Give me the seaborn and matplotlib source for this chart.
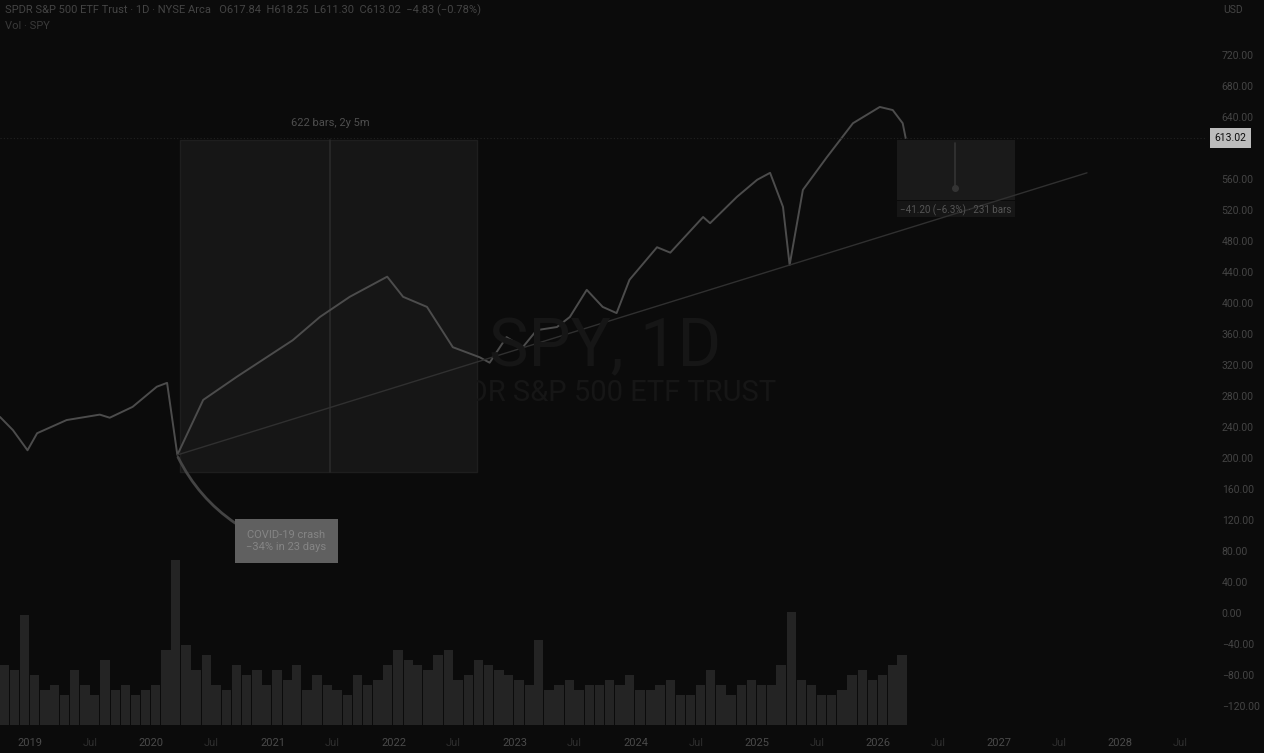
import numpy as np
import pandas as pd
import matplotlib
matplotlib.use("Agg")
import matplotlib.pyplot as plt
import matplotlib.dates as mdates
import matplotlib.transforms as mtransforms
from matplotlib.patches import Rectangle
import seaborn as sns

# price path (closes)
dates = ["2018-10-02", "2018-11-10", "2018-12-24", "2019-01-22", "2019-04-21",
         "2019-07-30", "2019-08-29", "2019-11-06", "2020-01-18", "2020-02-18",
         "2020-03-20", "2020-06-06", "2020-09-16", "2021-03-03", "2021-05-24",
         "2021-08-22", "2021-12-13", "2022-01-30", "2022-04-12", "2022-06-29",
         "2022-09-18", "2022-10-18", "2022-12-08", "2023-01-26", "2023-03-09",
         "2023-05-09", "2023-06-17", "2023-08-07", "2023-09-24", "2023-11-05",
         "2023-12-14", "2024-03-06", "2024-04-15", "2024-07-23", "2024-08-13",
         "2024-11-02", "2025-01-02", "2025-02-10", "2025-03-21", "2025-04-10",
         "2025-05-20", "2025-07-31", "2025-10-18", "2026-01-07", "2026-02-15",
         "2026-03-17", "2026-03-26"]
close = [253, 236, 210, 232, 249, 256, 252, 266, 292, 297,
         204, 275, 305, 352, 382, 408, 434, 408, 395, 343,
         330, 323, 356, 343, 365, 369, 382, 417, 395, 387,
         430, 472, 465, 511, 503, 537, 559, 568, 524, 449,
         546, 588, 632, 653, 649, 632, 613]

# monthly volume, millions (Oct 2018 .. Mar 2026)
volume = [120, 110, 220,
          100, 70, 80, 60, 110, 80, 60, 130, 70, 80, 60, 70,
          80, 150, 330, 160, 110, 140, 80, 70, 120, 100, 110, 80,
          110, 90, 120, 70, 100, 80, 70, 60, 100, 80, 90, 120,
          150, 130, 120, 110, 140, 150, 90, 100, 130, 120, 110, 100,
          90, 80, 170, 70, 80, 90, 70, 80, 80, 90, 80, 100,
          70, 70, 80, 90, 60, 60, 80, 110, 80, 60, 80, 90,
          80, 80, 120, 226, 90, 80, 60, 60, 70, 100, 110, 90,
          100, 120, 140]

trend_dates = ["2020-03-20", "2027-09-24"]
trend_price = [204, 568]

last_price = 613.02
price_ticks = [-120, -80, -40, 0, 40, 80, 120, 160, 200, 240, 280, 320, 360,
               400, 440, 480, 520, 560, 640, 680, 720]
years = [2019, 2020, 2021, 2022, 2023, 2024, 2025, 2026, 2027, 2028]

BG = "#0b0b0b"
sns.set_theme(style="dark", rc={"axes.facecolor": BG, "figure.facecolor": BG})
plt.rcParams["font.family"] = ["Roboto", "DejaVu Sans"]

fig = plt.figure(figsize=(12.64, 7.53), dpi=100)
pos = [0, 28 / 753, 1205 / 1264, 725 / 753]
ax_vol = fig.add_axes(pos)
ax = fig.add_axes(pos, sharex=ax_vol)
ax.set_facecolor("none")

# volume
vol_dates = pd.date_range("2018-10-01", periods=len(volume), freq="MS")
ax_vol.bar(vol_dates, volume, width=28, align="edge", color="#242424", linewidth=0)
ax_vol.set_ylim(0, 1450)
ax_vol.set_yticks([])
ax_vol.tick_params(axis="x", which="both", labelbottom=False, length=0)
for s in ax_vol.spines.values():
    s.set_visible(False)

# price
df = pd.DataFrame({"date": pd.to_datetime(dates), "close": close})
sns.lineplot(data=df, x="date", y="close", ax=ax, color="#4c4c4c", linewidth=1.4)
sns.lineplot(x=pd.to_datetime(trend_dates), y=trend_price, ax=ax,
             color="#303030", linewidth=1.0)

ax.set_xlim(pd.Timestamp("2018-10-02"), pd.Timestamp("2028-09-14"))
ax.set_ylim(-144.5, 791)
ax.set_xlabel("")
ax.set_ylabel("")
for s in ax.spines.values():
    s.set_visible(False)

# price scale on the right
ax.yaxis.tick_right()
ax.set_yticks(price_ticks)
ax.set_yticklabels([f"{v:.2f}".replace("-", "\u2212") for v in price_ticks])
ax.tick_params(axis="y", length=0, pad=12, labelsize=7.5, labelcolor="#444444")

# date axis
ax.set_xticks([pd.Timestamp(f"{y}-01-01") for y in years])
ax.set_xticklabels([str(y) for y in years])
ax.set_xticks([pd.Timestamp(f"{y}-07-01") for y in years], minor=True)
ax.set_xticklabels(["Jul"] * len(years), minor=True)
ax.tick_params(axis="x", which="major", length=0, pad=9, labelsize=8, labelcolor="#4a4a4a")
ax.tick_params(axis="x", which="minor", length=0, pad=9, labelsize=8, labelcolor="#2e2e2e")
ax.grid(False)
ax_vol.grid(False)

# last price line + label
ax.axhline(last_price, color="#222222", lw=0.8, ls=(0, (1, 2)))
trans = mtransforms.blended_transform_factory(ax.transAxes, ax.transData)
ax.text(1.008, last_price, f"{last_price:.2f}", transform=trans, ha="left", va="center",
        fontsize=7.5, color="#0b0b0b",
        bbox=dict(boxstyle="square,pad=0.45", fc="#bcbcbc", ec="none"))

d = mdates.date2num

# date range box
x0, x1 = d(pd.Timestamp("2020-03-28")), d(pd.Timestamp("2022-09-10"))
ax.add_patch(Rectangle((x0, 182), x1 - x0, 428, fc="#161616", ec="#1e1e1e", lw=1, zorder=0.5))
xm = d(pd.Timestamp("2021-06-23"))
ax.plot([xm, xm], [182, 610], color="#2a2a2a", lw=1.2, zorder=0.6)
ax.text(xm, 632, "622 bars, 2y 5m", ha="center", va="center", fontsize=8, color="#4e4e4e")

# projection box on the right
r0, r1 = d(pd.Timestamp("2026-02-27")), d(pd.Timestamp("2027-02-18"))
ax.add_patch(Rectangle((r0, 533), r1 - r0, 77, fc="#1a1a1a", ec="none", zorder=0.5))
rm = d(pd.Timestamp("2026-08-21"))
ax.plot([rm, rm], [607, 548], color="#343434", lw=1.2)
ax.plot([rm], [548], "o", color="#343434", ms=4)
ax.add_patch(Rectangle((r0, 511), r1 - r0, 20, fc="#161616", ec="none", zorder=0.5))
ax.text((r0 + r1) / 2, 520, "\u221241.20 (\u22126.3%) \u00b7 231 bars", ha="center", va="center",
        fontsize=7, color="#555555")

# callout
ax.annotate("COVID-19 crash\n\u221234% in 23 days",
            xy=(d(pd.Timestamp("2020-03-22")), 201),
            xytext=(d(pd.Timestamp("2021-02-12")), 93),
            ha="center", va="center", fontsize=8, color="#858585",
            bbox=dict(boxstyle="square,pad=1.0", fc="#606060", ec="none"),
            arrowprops=dict(arrowstyle="-", color="#444444", lw=2,
                            connectionstyle="arc3,rad=-0.15", relpos=(0.0, 1.0),
                            shrinkA=0, shrinkB=0))

# watermark and headers
fig.text(605 / 1264, 1 - 348 / 753, "SPY, 1D", ha="center", va="center",
         fontsize=48, color="#161616", zorder=0)
fig.text(605 / 1264, 1 - 393 / 753, "SPDR S&P 500 ETF TRUST", ha="center", va="center",
         fontsize=21, color="#161616", zorder=0)
fig.text(5 / 1264, 1 - 10 / 753,
         "SPDR S&P 500 ETF Trust \u00b7 1D \u00b7 NYSE Arca   O617.84  H618.25  L611.30  "
         "C613.02  \u22124.83 (\u22120.78%)",
         ha="left", va="center", fontsize=8, color="#444444")
fig.text(5 / 1264, 1 - 26 / 753, "Vol \u00b7 SPY", ha="left", va="center",
         fontsize=8, color="#3a3a3a")
fig.text(1233 / 1264, 1 - 10 / 753, "USD", ha="center", va="center",
         fontsize=7.5, color="#444444")

fig.savefig("out.png", dpi=100, facecolor=BG)
